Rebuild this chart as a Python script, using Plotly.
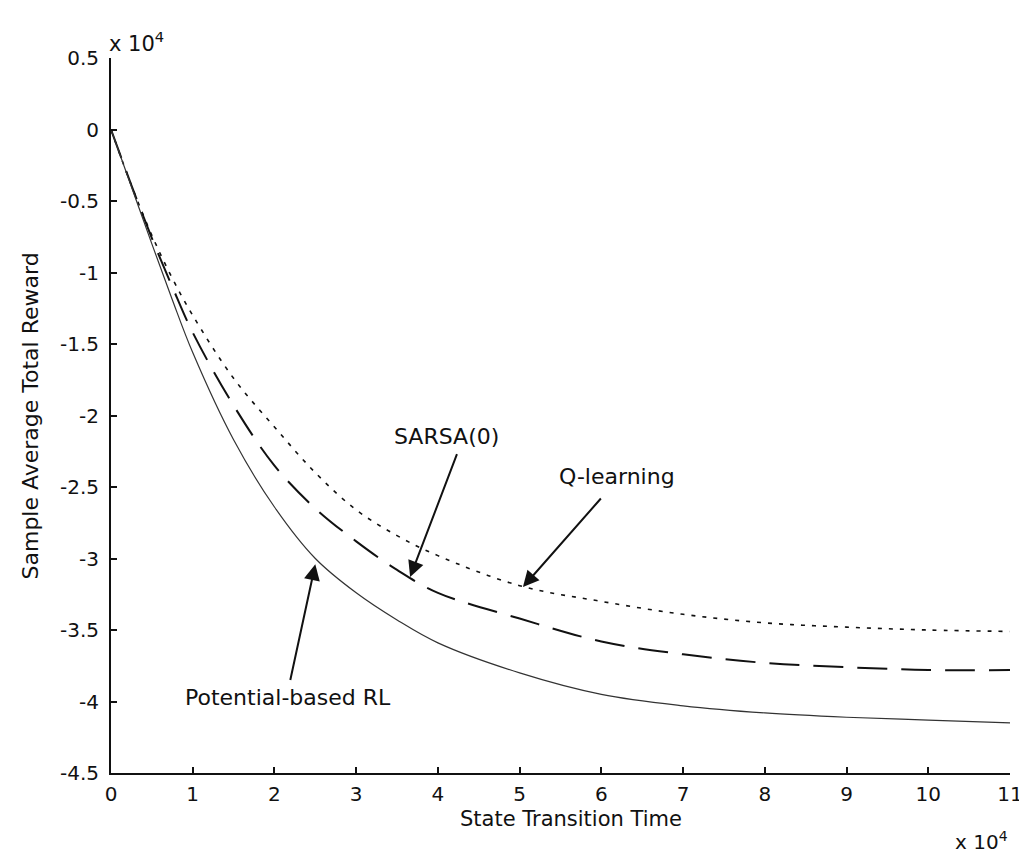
import plotly.graph_objects as go

# x in units of 10^4 state transitions, y in units of 10^4 reward
x_vals = [0, 0.25, 0.5, 0.75, 1, 1.5, 2, 2.5, 3, 3.5, 4, 5, 6, 7, 8, 9, 10, 11]
potential_rl = [0, -0.40, -0.80, -1.19, -1.56, -2.17, -2.64, -3.00, -3.24, -3.43, -3.59, -3.80, -3.95, -4.03, -4.08, -4.11, -4.13, -4.15]
sarsa0 = [0, -0.39, -0.76, -1.10, -1.42, -1.93, -2.35, -2.65, -2.88, -3.08, -3.24, -3.42, -3.58, -3.67, -3.73, -3.76, -3.78, -3.78]
q_learning = [0, -0.39, -0.74, -1.04, -1.30, -1.74, -2.08, -2.40, -2.66, -2.84, -2.98, -3.19, -3.30, -3.39, -3.45, -3.48, -3.50, -3.51]

x_ticks = list(range(0, 12))
y_ticks = [0.5, 0, -0.5, -1, -1.5, -2, -2.5, -3, -3.5, -4, -4.5]
y_tick_text = ["0.5", "0", "-0.5", "-1", "-1.5", "-2", "-2.5", "-3", "-3.5", "-4", "-4.5"]

FONT = "DejaVu Sans, Liberation Sans, Arial, sans-serif"
INK = "#111"

fig = go.Figure()
fig.add_trace(go.Scatter(x=x_vals, y=q_learning, mode="lines", line_shape="spline",
                         line=dict(color=INK, width=1.6, dash="4px,7px"), name="Q-learning"))
fig.add_trace(go.Scatter(x=x_vals, y=sarsa0, mode="lines", line_shape="spline",
                         line=dict(color=INK, width=2, dash="30px,14px"), name="SARSA(0)"))
fig.add_trace(go.Scatter(x=x_vals, y=potential_rl, mode="lines", line_shape="spline",
                         line=dict(color="#333", width=1.2), name="Potential-based RL"))

ann = []
# arrows: tip at (x, y), tail at (ax, ay), all in data units
for (tx, ty, axx, ayy) in [(3.66, -3.13, 4.24, -2.26), (5.04, -3.20, 6.01, -2.57), (2.50, -3.04, 2.19, -3.86)]:
    ann.append(dict(x=tx, y=ty, ax=axx, ay=ayy, xref="x", yref="y", axref="x", ayref="y",
                    text="", showarrow=True, arrowhead=2, arrowsize=1.6, arrowwidth=2, arrowcolor=INK))
for (tx, ty, t) in [(4.10, -2.15, "SARSA(0)"), (6.19, -2.43, "Q-learning"), (2.17, -3.97, "Potential-based RL")]:
    ann.append(dict(x=tx, y=ty, xref="x", yref="y", text=t, showarrow=False,
                    font=dict(family=FONT, size=22, color=INK)))
# exponent labels
ann.append(dict(x=-0.004, y=1.0, xref="paper", yref="paper", xanchor="left", yanchor="bottom",
                text="x 10<sup>4</sup>", showarrow=False, font=dict(family=FONT, size=21, color=INK)))
ann.append(dict(x=1.0, y=-0.095, xref="paper", yref="paper", xanchor="right", yanchor="middle",
                text="x 10<sup>4</sup>", showarrow=False, font=dict(family=FONT, size=20, color=INK)))
# axis titles
ann.append(dict(x=0.512, y=-0.064, xref="paper", yref="paper", xanchor="center", yanchor="middle",
                text="State Transition Time", showarrow=False, font=dict(family=FONT, size=21, color=INK)))
ann.append(dict(x=-0.089, y=0.5, xref="paper", yref="paper", xanchor="center", yanchor="middle",
                textangle=-90, text="Sample Average Total Reward", showarrow=False,
                font=dict(family=FONT, size=22, color=INK)))

fig.update_layout(
    width=1019, height=852,
    margin=dict(l=111, r=9, t=58, b=79),
    plot_bgcolor="white", paper_bgcolor="white",
    showlegend=False,
    font=dict(family=FONT, size=20, color=INK),
    annotations=ann,
    xaxis=dict(range=[0, 11], tickvals=x_ticks, ticks="inside", ticklen=6, tickwidth=1.5,
               tickcolor=INK, showline=True, linecolor=INK, linewidth=2, mirror=False,
               showgrid=False, zeroline=False, automargin=False, ticklabeloverflow="allow",
               ticklabelstandoff=2, tickfont=dict(family=FONT, size=20, color=INK)),
    yaxis=dict(range=[-4.5, 0.5], tickvals=y_ticks, ticktext=y_tick_text, ticks="inside", ticklen=6,
               tickwidth=1.5, tickcolor=INK, showline=True, linecolor=INK, linewidth=2,
               mirror=False, showgrid=False, zeroline=False, automargin=False,
               ticklabelstandoff=6, tickfont=dict(family=FONT, size=20, color=INK)),
)

fig.write_html("out.html", config={"displayModeBar": False},
               post_script="document.body.style.margin='0px';")
